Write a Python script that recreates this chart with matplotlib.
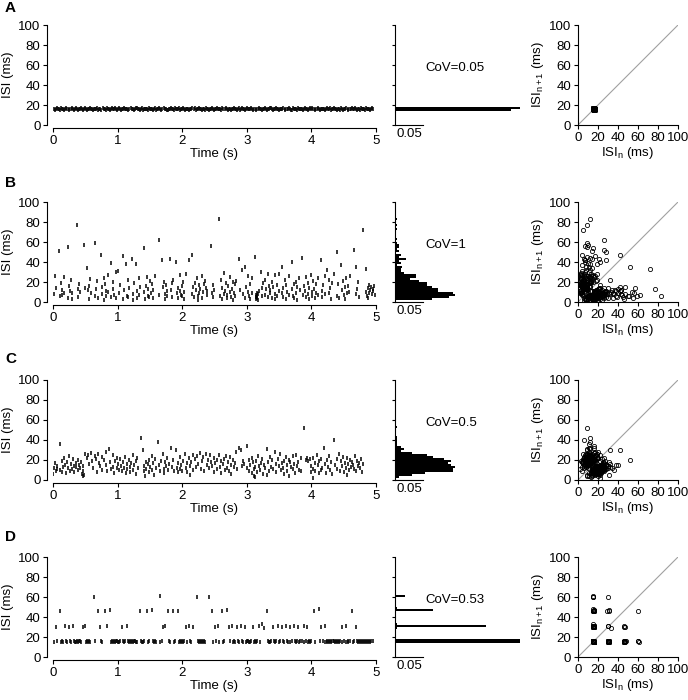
import numpy as np
import matplotlib.pyplot as plt

plt.rcParams['font.family'] = ['Liberation Sans', 'DejaVu Sans']
plt.rcParams['font.size'] = 9.5
plt.rcParams['mathtext.fontset'] = 'custom'
plt.rcParams['mathtext.rm'] = 'Liberation Sans'
plt.rcParams['mathtext.it'] = 'Liberation Sans'

# inter-spike intervals (ms), in order
isi_a = [16, 15, 16, 17, 16, 16, 15, 17, 16, 16, 15, 16, 17, 16, 16, 15, 16, 17, 16, 15,
         16, 17, 16, 15, 16, 16, 17, 16, 15, 16, 17, 16, 15, 16, 16, 17, 16, 16, 15, 16,
         16, 16, 17, 15, 16, 16, 15, 17, 16, 16, 15, 17, 16, 16, 15, 16, 17, 16, 16, 17,
         16, 15, 16, 17, 16, 15, 16, 16, 17, 16, 16, 16, 15, 16, 17, 16, 16, 15, 16, 17,
         17, 16, 16, 15, 16, 17, 15, 16, 16, 16, 16, 15, 17, 16, 16, 16, 15, 16, 17, 15,
         16, 16, 17, 16, 15, 16, 17, 16, 16, 15, 15, 16, 16, 17, 16, 16, 15, 17, 16, 16,
         16, 17, 15, 16, 16, 17, 16, 15, 16, 16, 16, 15, 16, 16, 17, 16, 17, 15, 16, 16,
         17, 16, 16, 15, 16, 16, 15, 17, 16, 16, 15, 16, 16, 17, 16, 15, 16, 16, 17, 16,
         16, 16, 15, 17, 16, 16, 17, 16, 15, 16, 16, 15, 16, 16, 17, 16, 16, 15, 16, 17,
         15, 16, 17, 16, 16, 15, 16, 17, 16, 16, 16, 17, 16, 15, 16, 16, 15, 16, 17, 16,
         16, 15, 16, 16, 17, 16, 15, 16, 16, 17, 17, 16, 15, 16, 16, 17, 16, 16, 15, 16,
         16, 16, 17, 16, 15, 16, 16, 17, 16, 15, 15, 17, 16, 16, 16, 15, 17, 16, 16, 16,
         16, 15, 16, 17, 16, 16, 15, 16, 17, 16, 17, 16, 16, 15, 16, 17, 16, 15, 16, 16,
         16, 16, 15, 16, 17, 16, 16, 17, 15, 16, 16, 17, 16, 16, 15, 16, 16, 15, 17, 16,
         15, 16, 16, 17, 16, 15, 16, 16, 17, 16, 16, 17, 16, 15, 16, 16, 15, 17, 16, 16,
         16, 15, 17, 16, 16, 16, 15, 16, 17, 16]

isi_b = [8, 26, 14, 51, 6, 19, 12, 7, 25, 9, 55, 4, 16, 11, 22, 3, 9, 77, 13, 5, 18, 10, 57,
         14, 34, 12, 16, 3, 23, 9, 59, 6, 13, 21, 4, 47, 15, 8, 24, 2, 18, 11, 6, 27, 10, 39,
         5, 20, 13, 7, 30,
         4, 31, 9, 17, 46, 3, 12, 38, 6, 22, 5, 14, 43, 8, 2, 19, 38, 11, 4, 24, 7, 15, 54,
         10, 3, 16, 25, 6, 13, 5, 21,
         9, 18, 12, 4, 26, 62, 7, 42, 15, 20, 8, 3, 17, 11, 6, 43, 12, 19, 5, 22, 40, 9, 14,
         4, 27, 11, 7,
         16, 6, 20, 10, 3, 28, 42, 47, 8, 15, 5, 19, 12, 24, 6, 2, 17, 9, 13, 26, 4, 10, 18,
         21, 14, 11, 7, 56,
         9, 17, 5, 12, 83, 6, 22, 14, 3, 29, 8, 11, 19, 4, 7, 16, 25, 10, 5, 13, 20, 2, 9,
         18, 6, 21, 43,
         12, 32, 8, 35, 4, 15, 26, 10, 6, 18, 3, 24, 9, 45, 5, 7, 3, 9, 6, 4, 8, 2, 11, 30,
         14, 6, 19, 22, 7, 13, 28, 5, 16, 9, 12, 20, 4, 15, 27, 8, 3, 17,
         6, 28, 11, 35, 9, 14, 5, 22, 17, 3, 10, 26, 7, 40, 13, 6, 18, 4, 20, 9, 15, 2, 24,
         12, 44, 7, 16, 11, 25, 5, 19, 8,
         14, 3, 27, 10, 6, 21, 13, 4, 18, 9, 24, 7, 42, 11, 5, 17, 26, 8, 32, 22, 9, 14, 3,
         19, 28, 50,
         6, 18, 4, 37, 12, 21, 7, 15, 3, 24, 9, 16, 10, 26, 52, 35, 8, 13, 20, 5, 72, 33, 10,
         6, 14, 4, 17, 9, 12, 15, 8, 13, 11, 16, 7]

isi_c = [6, 12, 17, 9, 14, 11, 36, 10, 19, 8, 13, 22, 15, 7, 18, 12, 24, 9, 16, 11, 21, 14,
         8, 17, 13, 20, 10, 15, 12, 18, 6, 14, 4, 9, 5, 26,
         22, 25, 16, 27, 19, 12, 24, 21, 8, 26, 17, 14, 23, 10, 20, 28, 15, 9, 31, 18, 11, 25,
         13, 7, 19, 22, 12, 16, 10, 21,
         14, 9, 18, 12, 23, 7, 16, 11, 20, 13, 8, 17, 25, 10, 15, 19, 6, 22, 12, 42, 30, 14, 9,
         4, 18, 11, 16,
         20, 8, 13, 24, 10, 17, 5, 21, 12, 38, 15, 9, 19, 26, 11, 7, 18, 14, 22, 10, 16, 32,
         13, 20, 9, 30, 12, 17, 8, 23,
         11, 15, 9, 19, 26, 12, 17, 8, 22, 14, 5, 18, 25, 10, 21, 13, 24, 16, 27, 11, 19, 23,
         9, 26, 15, 20, 12, 25, 18,
         14, 22, 8, 17, 20, 11, 25, 13, 19, 7, 16, 21, 10, 24, 12, 18, 9, 23, 15, 6, 20, 13,
         17, 28, 11, 32, 30, 14, 19,
         16, 34, 12, 20, 9, 15, 22, 7, 18, 11, 4, 13, 3, 19, 8, 24, 14, 10, 17, 21, 6, 15, 12,
         31, 5, 18, 9, 23, 13, 20,
         11, 28, 16, 8, 21, 14, 26, 10, 17, 12, 19, 6, 23, 15, 9, 20, 4, 18, 13, 24, 11, 16, 7,
         25, 14, 18, 10, 22, 9, 52, 20, 22, 19, 21,
         14, 8, 22, 2, 11, 17, 9, 25, 15, 19, 7, 21, 10, 12, 32, 16, 7, 20, 13, 24, 10, 18, 6,
         40, 15, 21, 11, 26, 9, 19, 14, 23, 8, 17, 12, 22, 5, 16, 10, 20, 13, 18, 15, 11, 24,
         9, 19, 14, 17, 12, 21, 8, 16]

isi_d = [15, 30, 16, 46, 15, 16, 15, 31, 16, 15, 30, 16, 15, 31,
         16, 15, 15, 16, 15, 16, 16, 15, 30, 31,
         15, 16, 15, 16, 15, 60, 16, 46, 30, 16, 15, 46, 31, 47,
         15, 16, 15, 16, 15, 16, 16, 15, 15, 16, 30, 16, 15, 16, 31,
         16, 15, 16, 15, 16, 15, 16, 16, 15, 15, 46, 16, 15, 15, 16, 46, 15, 16, 47,
         16, 15, 16, 15, 61, 15, 16, 30, 31, 46, 16, 15, 46, 15, 16, 46,
         15, 16, 15, 16, 15, 16, 30, 15, 31, 16, 15, 30, 60,
         16, 15, 16, 15, 16, 15, 16, 15, 60, 46, 15, 30, 16, 31, 15, 46, 15, 16, 47,
         30, 16, 31, 15, 16, 15, 30, 16, 15, 31, 16, 15, 30,
         15, 16, 16, 15, 15, 16, 30, 15, 16, 15, 16, 31, 15, 33, 29, 46,
         16, 15, 15, 16, 30, 16, 15, 16, 31, 15, 16, 30, 16, 15, 31, 16, 15, 30, 15, 16, 31,
         16, 15, 16, 30, 15, 16, 16, 31, 15, 16, 30, 15, 16, 15, 16, 46, 15, 48, 16, 30, 16, 31,
         15, 16, 15, 16, 15, 16, 15, 16, 16, 15, 16, 15, 16, 15, 16, 30, 15, 16, 31,
         15, 16, 15, 16, 46, 15, 16, 30,
         16, 15, 16, 15, 16, 15, 16, 15, 16, 15, 16, 15, 16, 15, 16, 16]

series = [isi_a, isi_b, isi_c, isi_d]
panel_labels = ['A', 'B', 'C', 'D']
cov_labels = ['CoV=0.05', 'CoV=1', 'CoV=0.5', 'CoV=0.53']
time_ticks = [0, 1, 2, 3, 4, 5]
isi_ticks = [0, 20, 40, 60, 80, 100]
hist_bins = np.arange(0, 102, 2)
scale_bar = 0.05

W, H = 688.0, 700.0
tops = [25, 202, 380, 557]
letter_y = [8, 183, 359, 537]


def box(x0, y0, w, h):
    return [x0 / W, 1 - (y0 + h) / H, w / W, h / H]


def style(ax):
    ax.spines[['top', 'right']].set_visible(False)
    for s in ['left', 'bottom']:
        ax.spines[s].set_linewidth(0.8)
    ax.tick_params(direction='out', length=3, width=0.8, pad=2)


fig = plt.figure(figsize=(6.88, 7.0), dpi=100)

for k, isi in enumerate(series):
    isi = np.asarray(isi, float)
    t = np.cumsum(isi) / 1000.0
    top = tops[k]

    # ISI vs time
    ax = fig.add_axes(box(53, top, 323, 100))
    ax.plot(t, isi, ls='none', marker='|', ms=3.5, mew=1.1, color='k')
    ax.set_xlim(0, 5)
    ax.set_ylim(0, 100)
    ax.set_xticks(time_ticks)
    ax.set_yticks(isi_ticks)
    style(ax)
    ax.spines['left'].set_position(('outward', 4))
    ax.spines['bottom'].set_position(('outward', 2))
    ax.set_xlabel('Time (s)', labelpad=1)
    ax.set_ylabel('ISI (ms)', labelpad=3)

    # histogram
    hx = fig.add_axes(box(395, top, 125, 100))
    counts, edges = np.histogram(isi, bins=hist_bins)
    hx.barh(edges[:-1], counts / len(isi), height=2, align='edge', color='k', lw=0)
    hx.set_xlim(0, scale_bar * 125 / 28)
    hx.set_ylim(0, 100)
    style(hx)
    hx.spines['bottom'].set_bounds(0, scale_bar)
    hx.set_xticks([])
    hx.set_yticks(isi_ticks)
    hx.set_yticklabels([])
    hx.tick_params(axis='y', length=2)
    hx.text(scale_bar / 2, -3, '0.05', ha='center', va='top')
    hx.text(0.24, 0.57, cov_labels[k], transform=hx.transAxes, ha='left', va='center')

    # return map
    sx = fig.add_axes(box(578, top, 100, 100))
    sx.plot([0, 100], [0, 100], color='#a0a0a0', lw=0.8)
    sx.plot(isi[:-1], isi[1:], ls='none', marker='o', ms=3, mfc='none', mec='k', mew=0.6)
    sx.set_xlim(0, 100)
    sx.set_ylim(0, 100)
    sx.set_xticks(isi_ticks)
    sx.set_yticks(isi_ticks)
    style(sx)
    sx.set_xlabel(r'ISI$_{\mathregular{n}}$ (ms)', labelpad=1)
    sx.set_ylabel(r'ISI$_{\mathregular{n+1}}$ (ms)', labelpad=2)

    fig.text(5 / W, 1 - letter_y[k] / H, panel_labels[k], fontsize=11,
             fontweight='bold', va='center', ha='left')

fig.savefig('out.png', dpi=100)
